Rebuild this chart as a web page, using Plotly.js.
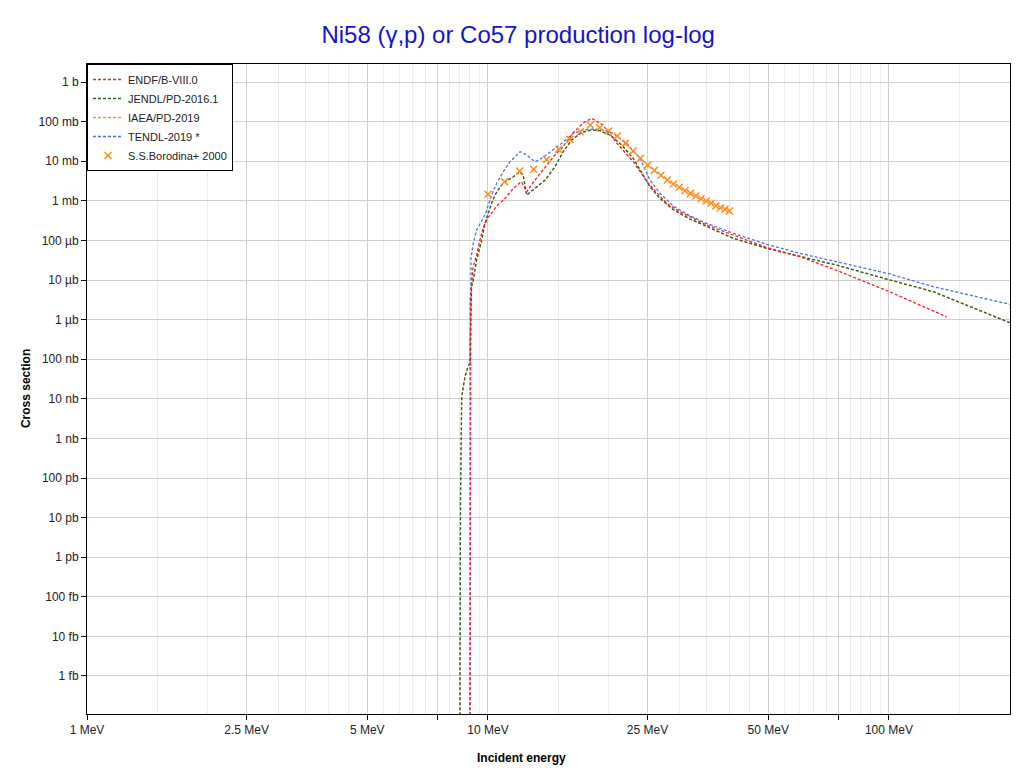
<!DOCTYPE html>
<html>
<head>
<meta charset="utf-8">
<script src="https://cdn.plot.ly/plotly-3.0.1.min.js"></script>
<style>html,body{margin:0;padding:0;background:#fff;}#chart{width:1020px;height:774px;}</style>
</head>
<body>
<div id="chart"></div>
<script>
// ---- Data (energies in MeV, cross sections in barns) ----
const endfE = [9.02, 9.03, 9.18, 9.37, 9.55, 9.74, 10.02, 10.51, 11.03, 11.57, 12.12, 12.49, 13.10, 13.89, 14.69, 15.27, 16.29, 17.26, 18.14, 19.36, 20.94, 23.03, 25.11, 27.90, 30.11, 35.11, 40.92, 49.55, 59.99, 75.5, 100.6, 139.3];
const endfXS = [1e-17, 3.16e-6, 2.14e-5, 4.28e-5, 1.02e-4, 2.22e-4, 3.83e-4, 7.40e-4, 1.15e-3, 2.07e-3, 3.04e-3, 1.70e-3, 3.35e-3, 7.28e-3, 1.44e-2, 2.11e-2, 5.15e-2, 9.23e-2, 0.121, 8.20e-2, 2.88e-2, 9.70e-3, 2.77e-3, 8.63e-4, 5.31e-4, 2.45e-4, 1.35e-4, 6.61e-5, 3.89e-5, 1.62e-5, 5.01e-6, 1.17e-6];

const jendlE = [8.51, 8.54, 8.60, 8.76, 8.91, 9.02, 9.06, 9.10, 9.19, 9.37, 9.65, 9.83, 10.21, 10.41, 10.74, 11.03, 11.57, 12.02, 12.26, 12.49, 13.10, 13.89, 14.69, 15.41, 16.17, 17.13, 18.14, 19.02, 20.15, 21.55, 23.03, 24.39, 25.35, 26.85, 28.98, 31.89, 35.11, 40.92, 49.55, 59.99, 75.5, 100.6, 128.97, 200.3];
const jendlXS = [1e-17, 2.75e-11, 1.11e-8, 3.56e-8, 6.35e-8, 8.0e-8, 1.0e-6, 6.78e-6, 1.0e-5, 3.2e-5, 1.02e-4, 2.70e-4, 8.63e-4, 1.40e-3, 2.28e-3, 3.04e-3, 4.06e-3, 5.43e-3, 4.06e-3, 1.40e-3, 2.07e-3, 3.35e-3, 7.28e-3, 1.75e-2, 3.43e-2, 5.36e-2, 6.14e-2, 5.90e-2, 4.59e-2, 2.56e-2, 1.18e-2, 4.49e-3, 2.28e-3, 1.15e-3, 6.0e-4, 3.47e-4, 2.24e-4, 1.13e-4, 6.31e-5, 4.04e-5, 2.26e-5, 1.0e-5, 5.07e-6, 8.35e-7];

// IAEA/PD-2019 lies underneath JENDL/PD-2016.1 in the picture
const iaeaE = jendlE.slice();
const iaeaXS = jendlXS.slice();

const tendlE = [9.02, 9.04, 9.07, 9.19, 9.37, 9.65, 9.87, 10.02, 10.21, 10.51, 10.92, 11.35, 12.02, 12.49, 13.10, 13.61, 14.42, 15.27, 16.32, 17.29, 18.31, 19.40, 20.54, 22.18, 23.94, 25.35, 26.85, 28.98, 31.89, 35.11, 40.92, 49.55, 59.99, 75.5, 100.6, 128.97, 200.3];
const tendlXS = [1e-17, 6.8e-6, 3.53e-5, 8.45e-5, 1.83e-4, 3.14e-4, 4.83e-4, 7.83e-4, 1.40e-3, 2.77e-3, 5.43e-3, 9.70e-3, 1.74e-2, 1.44e-2, 9.70e-3, 1.18e-2, 1.84e-2, 2.83e-2, 5.06e-2, 6.14e-2, 6.50e-2, 6.14e-2, 5.06e-2, 2.83e-2, 1.18e-2, 3.35e-3, 1.55e-3, 7.4e-4, 4.17e-4, 2.70e-4, 1.51e-4, 7.96e-5, 4.71e-5, 2.79e-5, 1.42e-5, 6.79e-6, 2.43e-6];

const expE = [10, 11, 12, 13, 14, 15, 16, 17, 18, 19, 20, 21, 22, 23, 24, 25, 26, 27, 28, 29, 30, 31, 32, 33, 34, 35, 36, 37, 38, 39, 40];
const expXS = [1.46e-3, 3.04e-3, 5.66e-3, 6.24e-3, 1.11e-2, 2.0e-2, 3.56e-2, 5.57e-2, 8.20e-2, 7.03e-2, 5.79e-2, 4.33e-2, 2.82e-2, 1.81e-2, 1.18e-2, 8.02e-3, 5.87e-3, 4.40e-3, 3.35e-3, 2.65e-3, 2.19e-3, 1.80e-3, 1.54e-3, 1.32e-3, 1.13e-3, 9.89e-4, 8.63e-4, 7.53e-4, 6.71e-4, 6.10e-4, 5.53e-4];

// ---- Tick labels ----
const xTickVals = [1, 2.5, 5, 7.5, 10, 25, 50, 75, 100];
const xTickText = ['1 MeV', '2.5 MeV', '5 MeV', '', '10 MeV', '25 MeV', '50 MeV', '', '100 MeV'];
const xMinorVals = [1.5, 2, 3, 3.5, 4, 4.5, 5.5, 6, 6.5, 7, 8, 8.5, 9, 9.5, 15, 20, 30, 35, 40, 45, 55, 60, 65, 70, 80, 85, 90, 95, 150];
const yTickVals = [1, 1e-1, 1e-2, 1e-3, 1e-4, 1e-5, 1e-6, 1e-7, 1e-8, 1e-9, 1e-10, 1e-11, 1e-12, 1e-13, 1e-14, 1e-15];
const yTickText = ['1 b', '100 mb', '10 mb', '1 mb', '100 µb', '10 µb', '1 µb', '100 nb', '10 nb', '1 nb', '100 pb', '10 pb', '1 pb', '100 fb', '10 fb', '1 fb'];

const FONT = 'Liberation Sans, Arial, Helvetica, sans-serif';
const lineDash = '3px,2px';

const traces = [
  {x: iaeaE, y: iaeaXS, name: 'IAEA/PD-2019', mode: 'lines', legendrank: 3,
   line: {color: '#ff8a4c', width: 1.3, dash: lineDash}},
  {x: tendlE, y: tendlXS, name: 'TENDL-2019 *', mode: 'lines', legendrank: 4,
   line: {color: '#4a72e6', width: 1.3, dash: lineDash}},
  {x: jendlE, y: jendlXS, name: 'JENDL/PD-2016.1', mode: 'lines', legendrank: 2,
   line: {color: '#1e6b1e', width: 1.3, dash: lineDash}},
  {x: endfE, y: endfXS, name: 'ENDF/B-VIII.0', mode: 'lines', legendrank: 1,
   line: {color: '#ff1a1a', width: 1.3, dash: lineDash}},
  {x: expE, y: expXS, name: 'S.S.Borodina+ 2000', mode: 'markers', legendrank: 5,
   marker: {symbol: 'x-thin-open', size: 7, color: '#ff8c1a', line: {color: '#ff8c1a', width: 1.5}}}
];

const xRange = [0, Math.log10(200.4)];
const yRange = [-15.96, 0.455];

const layout = {
  width: 1020, height: 774,
  margin: {l: 87, r: 10, t: 64, b: 60},
  paper_bgcolor: '#ffffff', plot_bgcolor: '#ffffff',
  font: {family: FONT, size: 12, color: '#222'},
  title: {text: 'Ni58 (γ,p) or Co57 production log-log', font: {family: FONT, size: 24, color: '#1414cc'},
          x: 0.508, xref: 'container', xanchor: 'center', y: 0.955, yref: 'container', yanchor: 'middle'},
  showlegend: true,
  legend: {x: 0, y: 1, xanchor: 'left', yanchor: 'top', bgcolor: '#ffffff', bordercolor: '#000', borderwidth: 1,
           font: {family: FONT, size: 11, color: '#222'}, tracegroupgap: 0},
  xaxis: {type: 'log', range: xRange, tickmode: 'array', tickvals: xTickVals, ticktext: xTickText,
          ticks: 'outside', ticklen: 5, tickcolor: '#000', tickwidth: 1,
          showgrid: true, gridcolor: '#cfcfcf', gridwidth: 1,
          minor: {tickmode: 'array', tickvals: xMinorVals, showgrid: true, gridcolor: '#ececec', gridwidth: 1, ticks: ''},
          showline: true, linecolor: '#000', linewidth: 1, mirror: true, zeroline: false,
          tickfont: {family: FONT, size: 12, color: '#222'}},
  xaxis2: {type: 'log', range: xRange, overlaying: 'x', anchor: 'y', side: 'bottom',
           tickmode: 'array', tickvals: xTickVals, ticks: 'inside', ticklen: 5, tickcolor: '#000',
           minor: {tickmode: 'array', tickvals: xMinorVals, ticks: 'inside', ticklen: 4, tickcolor: '#000', showgrid: false},
           mirror: 'ticks', showline: false, showgrid: false, showticklabels: false, zeroline: false},
  yaxis: {type: 'log', range: yRange, tickmode: 'array', tickvals: yTickVals, ticktext: yTickText,
          ticks: 'outside', ticklen: 5, tickcolor: '#000', tickwidth: 1,
          showgrid: true, gridcolor: '#cfcfcf', gridwidth: 1,
          showline: true, linecolor: '#000', linewidth: 1, mirror: true, zeroline: false,
          tickfont: {family: FONT, size: 12, color: '#222'}},
  yaxis2: {type: 'log', range: yRange, overlaying: 'y', anchor: 'x', side: 'left',
           tickmode: 'array', tickvals: yTickVals, ticks: 'inside', ticklen: 5, tickcolor: '#000',
           mirror: 'ticks', showline: false, showgrid: false, showticklabels: false, zeroline: false},
  annotations: [
    {text: '<b>Incident energy</b>', xref: 'paper', yref: 'paper', x: 0.471, y: -0.068, xanchor: 'center', yanchor: 'middle',
     showarrow: false, font: {family: FONT, size: 12, color: '#000'}},
    {text: '<b>Cross section</b>', xref: 'paper', yref: 'paper', x: -0.066, y: 0.5, xanchor: 'center', yanchor: 'middle',
     textangle: -90, showarrow: false, font: {family: FONT, size: 12, color: '#000'}}
  ]
};

Plotly.newPlot('chart', traces, layout, {displayModeBar: false, staticPlot: true});
</script>
</body>
</html>
